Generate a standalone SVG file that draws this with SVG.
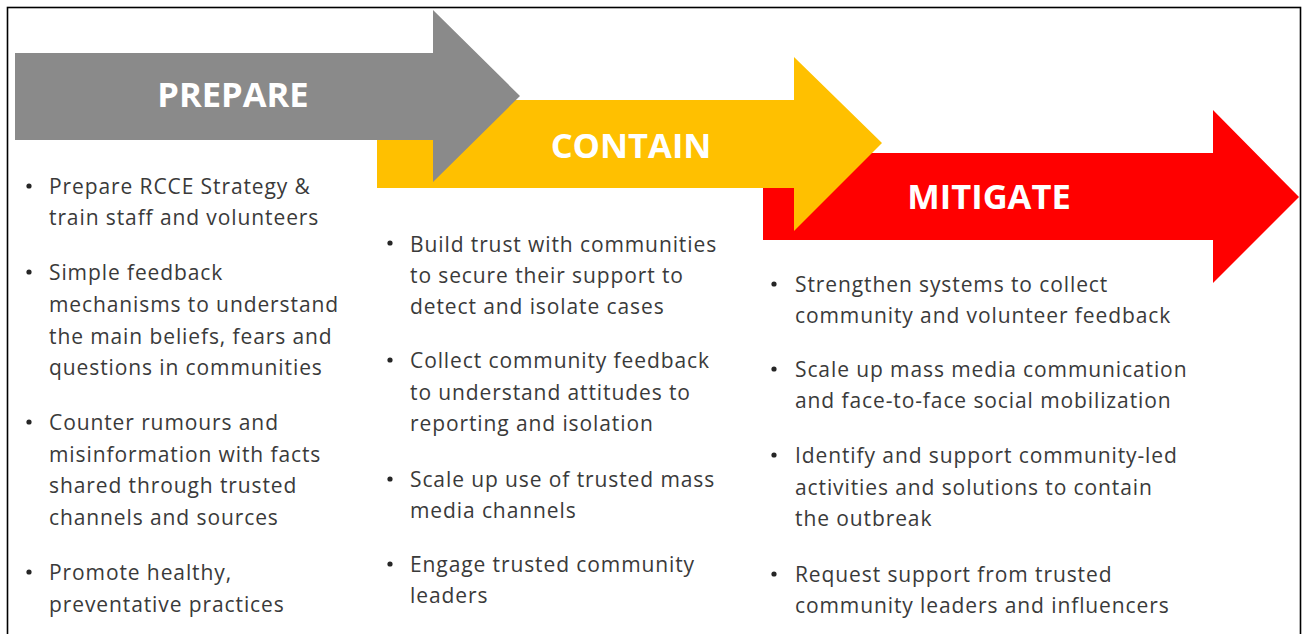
<svg xmlns="http://www.w3.org/2000/svg" width="1303" height="634" viewBox="0 0 1303 634">
<style>
.head{font-family:"Open Sans","Liberation Sans",sans-serif;font-weight:700;font-size:34.5px;fill:#ffffff;text-anchor:middle}
.body{font-family:"Open Sans","Liberation Sans",sans-serif;font-size:21px;letter-spacing:0.9px;fill:#3a3a3a}
.dot{fill:#262626}
</style>
<rect x="7.5" y="7.5" width="1293" height="640" fill="#ffffff" stroke="#000000" stroke-width="1.6"/>
<g id="arrow-mitigate">
<polygon points="763,153 1213,153 1213,110 1299,197 1213,283 1213,240 763,240" fill="#ff0000"/>
</g>
<g id="arrow-contain">
<polygon points="377,100 794,100 794,57 882,143 794,231 794,188 377,188" fill="#ffc000"/>
</g>
<g id="arrow-prepare">
<polygon points="15,53 433,53 433,10 520,96 433,182 433,140 15,140" fill="#8a8a8a"/>
</g>
<g id="labels">
<text class="head" x="233" y="107">PREPARE</text>
<text class="head" x="631" y="158">CONTAIN</text>
<text class="head" x="989" y="209">MITIGATE</text>
</g>
<g id="prepare-list">
<circle class="dot" cx="29" cy="186" r="2.6"/>
<text class="body" x="49" y="194">Prepare RCCE Strategy &amp;</text>
<text class="body" x="49" y="225">train staff and volunteers</text>
<circle class="dot" cx="29" cy="272" r="2.6"/>
<text class="body" x="49" y="280">Simple feedback</text>
<text class="body" x="49" y="312">mechanisms to understand</text>
<text class="body" x="49" y="344">the main beliefs, fears and</text>
<text class="body" x="49" y="375">questions in communities</text>
<circle class="dot" cx="29" cy="422" r="2.6"/>
<text class="body" x="49" y="430">Counter rumours and</text>
<text class="body" x="49" y="462">misinformation with facts</text>
<text class="body" x="49" y="493">shared through trusted</text>
<text class="body" x="49" y="525">channels and sources</text>
<circle class="dot" cx="29" cy="572" r="2.6"/>
<text class="body" x="49" y="580">Promote healthy,</text>
<text class="body" x="49" y="612">preventative practices</text>
</g>
<g id="contain-list">
<circle class="dot" cx="390" cy="243" r="2.6"/>
<text class="body" x="410" y="252">Build trust with communities</text>
<text class="body" x="410" y="283">to secure their support to</text>
<text class="body" x="410" y="314">detect and isolate cases</text>
<circle class="dot" cx="390" cy="360" r="2.6"/>
<text class="body" x="410" y="368">Collect community feedback</text>
<text class="body" x="410" y="400">to understand attitudes to</text>
<text class="body" x="410" y="431">reporting and isolation</text>
<circle class="dot" cx="390" cy="479" r="2.6"/>
<text class="body" x="410" y="487">Scale up use of trusted mass</text>
<text class="body" x="410" y="518">media channels</text>
<circle class="dot" cx="390" cy="564" r="2.6"/>
<text class="body" x="410" y="572">Engage trusted community</text>
<text class="body" x="410" y="603">leaders</text>
</g>
<g id="mitigate-list">
<circle class="dot" cx="774" cy="284" r="2.6"/>
<text class="body" x="795" y="292">Strengthen systems to collect</text>
<text class="body" x="795" y="323">community and volunteer feedback</text>
<circle class="dot" cx="774" cy="369" r="2.6"/>
<text class="body" x="795" y="377">Scale up mass media communication</text>
<text class="body" x="795" y="408">and face-to-face social mobilization</text>
<circle class="dot" cx="774" cy="455" r="2.6"/>
<text class="body" x="795" y="463">Identify and support community-led</text>
<text class="body" x="795" y="495">activities and solutions to contain</text>
<text class="body" x="795" y="526">the outbreak</text>
<circle class="dot" cx="774" cy="574" r="2.6"/>
<text class="body" x="795" y="582">Request support from trusted</text>
<text class="body" x="795" y="613">community leaders and influencers</text>
</g>
</svg>
